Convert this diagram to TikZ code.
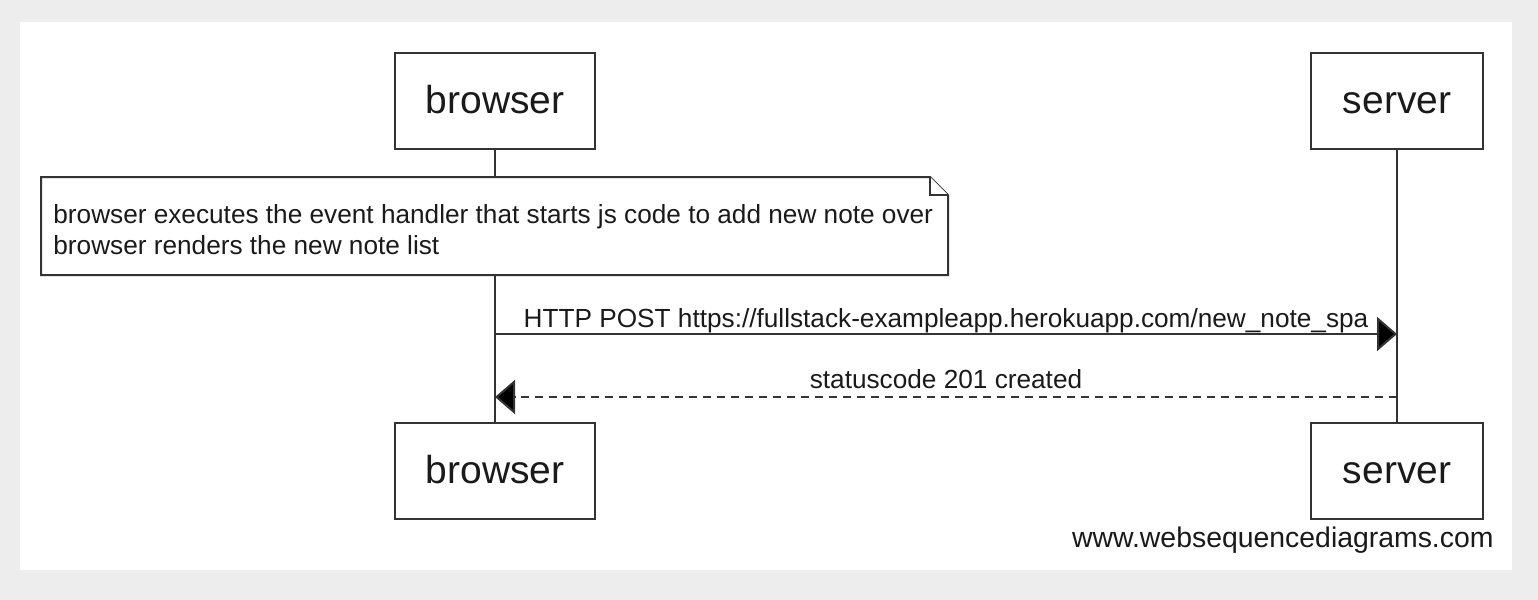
\documentclass[tikz,border=0pt]{standalone}
\usepackage{fontspec}
\setmainfont{Liberation Sans}
\usepackage{tikz}
\usepackage{xcolor}
\usetikzlibrary{arrows.meta,positioning,calc}
\definecolor{pagebg}{HTML}{EDEDED}
\definecolor{ink}{HTML}{1A1A1A}
\definecolor{rule}{HTML}{333333}
\tikzset{
  actor/.style={draw=rule,fill=white,line width=1pt,minimum width=100pt,
                minimum height=48pt,inner sep=0pt,text=ink,
                text height=15pt,text depth=3pt,
                font=\fontsize{19.5}{23}\selectfont},
  lifeline/.style={draw=rule,line width=1pt},
  notebox/.style={draw=rule,fill=white,line width=1pt,line join=miter},
  msglabel/.style={font=\fontsize{13.1}{15.5}\selectfont,text=ink,inner sep=0pt},
  callarr/.style={-{Triangle[length=10pt,width=17pt,fill=black]},line width=1pt,
                  draw=rule},
  replyarr/.style={callarr,dash pattern=on 4pt off 3pt}
}

\begin{document}
\begin{tikzpicture}[x=0.5pt,y=-0.5pt]
    \path[use as bounding box] (0,0) rectangle (1538,600);
    \fill[pagebg] (0,0) rectangle (1538,600);
    \fill[white] (20,22) rectangle (1512,570);
    % participants, top and bottom
    \node[actor] (browserTop) at (495,101) {browser};
    \node[actor,minimum width=86pt] (serverTop) at (1397,101) {server};
    \node[actor] (browserBot) at (495,471) {browser};
    \node[actor,minimum width=86pt] (serverBot) at (1397,471) {server};
    \draw[lifeline] (browserTop) -- (browserBot);
    \draw[lifeline] (serverTop) -- (serverBot);
    % note with folded corner, over the browser lifeline
    \draw[notebox] (41,177) -- (930,177) -- (948,195) -- (948,275)
      -- (41,275) -- cycle;
    \draw[notebox] (930,177) -- (930,195) -- (948,195);
    \node[msglabel,anchor=west,align=left] (note) at (53,230)
      {browser executes the event handler that starts js code to add new note over\\
       browser renders the new note list};
    % messages
    \coordinate (postFrom) at (browserTop |- 0,334);
    \coordinate (postTo) at (serverTop |- 0,334);
    \coordinate (replyFrom) at (serverTop |- 0,397);
    \coordinate (replyTo) at (browserTop |- 0,397);
    \draw[callarr] (postFrom) -- (postTo);
    \node[msglabel,anchor=base] (postLabel) at ($(postFrom)!0.5!(postTo)+(0,-7)$)
      {HTTP POST https://fullstack-exampleapp.herokuapp.com/new\_note\_spa};
    \draw[replyarr] (replyFrom) -- (replyTo);
    \node[msglabel,anchor=base] (replyLabel) at ($(replyFrom)!0.5!(replyTo)+(0,-9)$)
      {statuscode 201 created};
    \node[msglabel,font=\fontsize{14.2}{16}\selectfont,anchor=base east]
      (credit) at (1494,547) {www.websequencediagrams.com};
\end{tikzpicture}
\end{document}
